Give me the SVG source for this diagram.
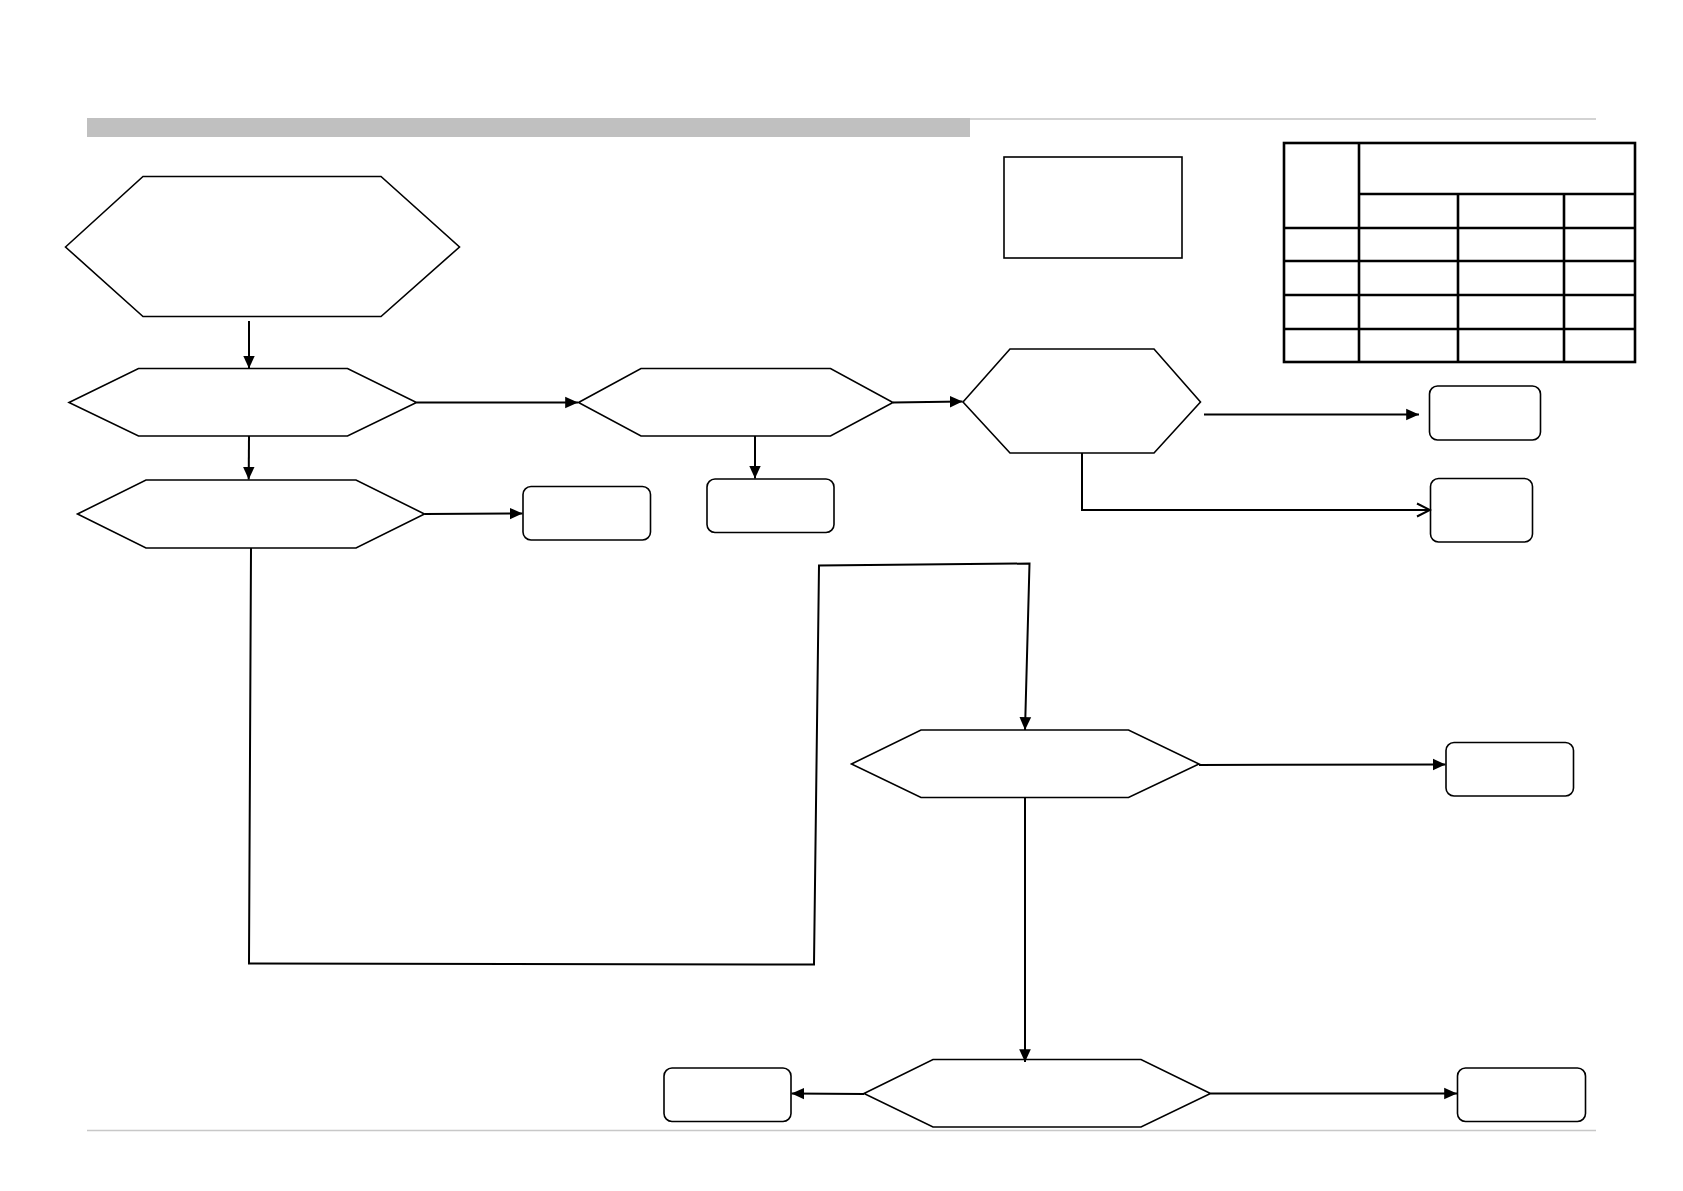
<svg xmlns="http://www.w3.org/2000/svg" width="1683" height="1191" viewBox="0 0 1683 1191">
<style>
.shape{fill:#fff;stroke:#000;stroke-width:1.6;stroke-linejoin:miter}
.box{fill:#fff;stroke:#000;stroke-width:1.6}
.conn{fill:none;stroke:#000;stroke-width:2}
.tbl{fill:none;stroke:#000;stroke-width:2.6}
</style>
<defs>
<marker id="arr" markerUnits="userSpaceOnUse" markerWidth="14" markerHeight="14" viewBox="0 0 12 12" refX="11" refY="6" orient="auto">
<path d="M0,1 L11,6 L0,11 Z" fill="#000"/>
</marker>
<marker id="open" markerUnits="userSpaceOnUse" markerWidth="16" markerHeight="16" viewBox="0 0 16 16" refX="14" refY="8" orient="auto">
<path d="M1,1.5 L14,8 L1,14.5" fill="none" stroke="#000" stroke-width="2"/>
</marker>
</defs>
<rect width="1683" height="1191" fill="#fff"/>
<g id="header">
<line x1="87" y1="119" x2="1596" y2="119" stroke="#c4c4c4" stroke-width="1.5"/>
<rect x="87" y="118" width="883" height="19" fill="#c0c0c0"/>
<line x1="87" y1="1130.5" x2="1596" y2="1130.5" stroke="#c8c8c8" stroke-width="1.5"/>
</g>
<g id="legend-box"><rect class="box" x="1004" y="157" width="178" height="101"/></g>
<g id="table">
<rect class="tbl" x="1284" y="143" width="351" height="219"/>
<line class="tbl" x1="1359" y1="143" x2="1359" y2="362"/>
<line class="tbl" x1="1359" y1="194" x2="1635" y2="194"/>
<line class="tbl" x1="1458" y1="194" x2="1458" y2="362"/>
<line class="tbl" x1="1564" y1="194" x2="1564" y2="362"/>
<line class="tbl" x1="1284" y1="228" x2="1635" y2="228"/>
<line class="tbl" x1="1284" y1="261" x2="1635" y2="261"/>
<line class="tbl" x1="1284" y1="295" x2="1635" y2="295"/>
<line class="tbl" x1="1284" y1="329" x2="1635" y2="329"/>
</g>
<g id="n1"><polygon class="shape" points="65.5,247 143,176.5 381,176.5 459.5,247 381,316.5 143,316.5"/></g>
<g id="n2"><polygon class="shape" points="69,402.5 138.5,368.5 347.5,368.5 416.5,402.5 347.5,436 138.5,436"/></g>
<g id="n3"><polygon class="shape" points="77.5,514 146,480 356,480 424.5,514 356,548 146,548"/></g>
<g id="n4"><rect class="box" x="523" y="486.5" width="127.5" height="53.5" rx="8"/></g>
<g id="n5"><polygon class="shape" points="578.5,402.5 641,368.5 830.5,368.5 893,402.5 830.5,436 641,436"/></g>
<g id="n6"><rect class="box" x="707" y="479" width="127" height="53.5" rx="8"/></g>
<g id="n7"><polygon class="shape" points="963,402 1010,349 1154,349 1200.5,402 1154,453 1010,453"/></g>
<g id="n8"><rect class="box" x="1429.5" y="386" width="111" height="54" rx="8"/></g>
<g id="n9"><rect class="box" x="1430.5" y="478.5" width="102" height="63.5" rx="8"/></g>
<g id="n10"><polygon class="shape" points="851.5,764 921,730 1128.5,730 1199,764 1128.5,797.5 921,797.5"/></g>
<g id="n11"><rect class="box" x="1446" y="742.5" width="127.5" height="53.5" rx="8"/></g>
<g id="n12"><polygon class="shape" points="864,1093.5 933,1059.5 1141,1059.5 1210.5,1093.5 1141,1127 933,1127"/></g>
<g id="n13"><rect class="box" x="664" y="1068" width="127" height="53.5" rx="8"/></g>
<g id="n14"><rect class="box" x="1457.5" y="1068" width="128" height="53.5" rx="8"/></g>
<g id="connectors">
<line class="conn" x1="249" y1="321" x2="249" y2="368.5" marker-end="url(#arr)"/>
<line class="conn" x1="249" y1="436" x2="248.7" y2="479.5" marker-end="url(#arr)"/>
<line class="conn" x1="416.5" y1="402.5" x2="578" y2="402.5" marker-end="url(#arr)"/>
<line class="conn" x1="424.5" y1="514" x2="522.5" y2="513.5" marker-end="url(#arr)"/>
<line class="conn" x1="755" y1="436" x2="755" y2="478.5" marker-end="url(#arr)"/>
<line class="conn" x1="893" y1="402.5" x2="962.5" y2="401.5" marker-end="url(#arr)"/>
<line class="conn" x1="1204" y1="414.5" x2="1419" y2="414.5" marker-end="url(#arr)"/>
<polyline class="conn" points="1082,453 1082,510 1430,510" marker-end="url(#open)"/>
<polyline class="conn" points="251,548 249,963.5 814,964.5 819,565.5 1029.5,563.5 1025,730" marker-end="url(#arr)"/>
<line class="conn" x1="1199" y1="765" x2="1445.5" y2="764.5" marker-end="url(#arr)"/>
<line class="conn" x1="1025" y1="797.5" x2="1025" y2="1062" marker-end="url(#arr)"/>
<line class="conn" x1="864" y1="1094" x2="791.5" y2="1093.5" marker-end="url(#arr)"/>
<line class="conn" x1="1210.5" y1="1093.5" x2="1457" y2="1093.5" marker-end="url(#arr)"/>
</g>
</svg>
